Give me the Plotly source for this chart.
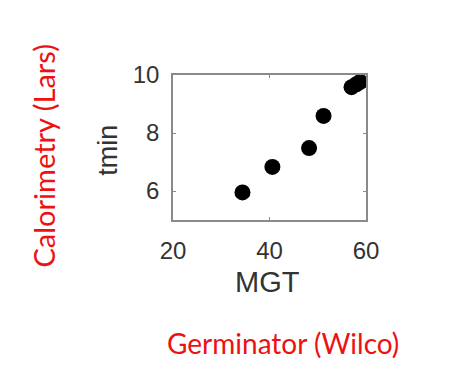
import plotly.graph_objects as go

mgt = [34.4, 40.6, 48.2, 51.2, 57.0, 58.0, 58.8]
tmin = [5.95, 6.83, 7.48, 8.59, 9.58, 9.68, 9.76]

x_ticks = [20, 40, 60]
y_ticks = [6, 8, 10]

x_title = "MGT"
y_title = "tmin"
red_x_label = "Germinator (Wilco)"
red_y_label = "Calorimetry (Lars)"

axis_color = "#8a8a8a"
tick_font = dict(family="Liberation Sans, Arial", size=24, color="#333333")

fig = go.Figure()
fig.add_trace(go.Scatter(
    x=mgt, y=tmin, mode="markers",
    marker=dict(color="black", size=16, line=dict(width=0)),
    showlegend=False,
))

fig.update_layout(
    width=451, height=386,
    margin=dict(l=173, r=85, t=75, b=166),
    paper_bgcolor="white", plot_bgcolor="white",
    xaxis=dict(
        range=[20, 60], tickvals=x_ticks, ticktext=[str(v) for v in x_ticks],
        showgrid=False, zeroline=False, showline=True, linecolor=axis_color,
        linewidth=1.5, mirror="allticks", ticks="inside", ticklen=3,
        tickcolor=axis_color, tickfont=tick_font, ticklabelstandoff=8,
    ),
    yaxis=dict(
        range=[5, 10], tickvals=y_ticks, ticktext=[str(v) for v in y_ticks],
        showgrid=False, zeroline=False, showline=True, linecolor=axis_color,
        linewidth=1.5, mirror="allticks", ticks="inside", ticklen=3,
        tickcolor=axis_color, tickfont=tick_font, ticklabelstandoff=7,
    ),
    annotations=[
        dict(text=x_title, xref="paper", yref="paper", x=0.49, y=-0.43,
             showarrow=False, font=dict(family="Liberation Sans, Arial", size=29, color="#333333"),
             xanchor="center", yanchor="middle"),
        dict(text=y_title, xref="paper", yref="paper", x=-0.335, y=0.48,
             showarrow=False, textangle=-90,
             font=dict(family="Liberation Sans, Arial", size=27, color="#333333"),
             xanchor="center", yanchor="middle"),
        dict(text=red_x_label, xref="paper", yref="paper", x=0.57, y=-0.85,
             showarrow=False, font=dict(family="Lato", size=28, color="#ee1111"),
             xanchor="center", yanchor="middle"),
        dict(text=red_y_label, xref="paper", yref="paper", x=-0.672, y=0.44,
             showarrow=False, textangle=-90,
             font=dict(family="Lato", size=29, color="#ee1111"),
             xanchor="center", yanchor="middle"),
    ],
)

fig.write_html("out.html")
